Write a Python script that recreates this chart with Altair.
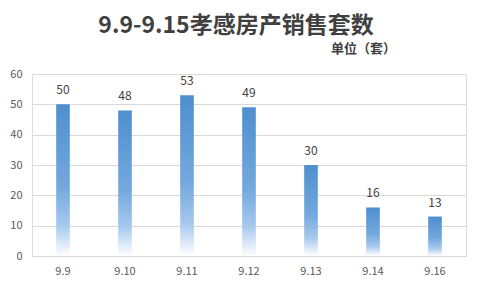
import altair as alt
import pandas as pd

# Daily housing sales in Xiaogan (units)
dates = ["9.9", "9.10", "9.11", "9.12", "9.13", "9.14", "9.16"]
units = [50, 48, 53, 49, 30, 16, 13]
y_ticks = [0, 10, 20, 30, 40, 50, 60]
heading_text = ["9.9-9.15孝感房产销售套数"]
unit_text = ["单位（套）"]

df = pd.DataFrame({"date": dates, "units": units})

FONT = "Noto Sans CJK SC"

x = alt.X("date:N", sort=dates, title=None,
          scale=alt.Scale(paddingInner=0.78, paddingOuter=0.39),
          axis=alt.Axis(labelAngle=0, labelFontSize=11, labelColor="#595959",
                        labelPadding=9, ticks=False, domain=True,
                        domainColor="#d9d9d9", labelFont=FONT))
y = alt.Y("units:Q", title=None,
          scale=alt.Scale(domain=[0, 60]),
          axis=alt.Axis(values=y_ticks, labelFontSize=11, labelOverlap=False,
                        labelColor="#595959", labelPadding=10, ticks=False,
                        domain=False, gridColor="#d9d9d9", labelFont=FONT))

# Vertical fade: solid blue at the top of each bar, white at the base
fade = alt.Gradient(
    gradient="linear", x1=0, y1=0, x2=0, y2=1,
    stops=[alt.GradientStop(offset=0, color="#4e8fcf"),
           alt.GradientStop(offset=0.55, color="#74a9de"),
           alt.GradientStop(offset=0.8, color="#a6c9ee"),
           alt.GradientStop(offset=1, color="#ffffff")])

bars = alt.Chart(df).mark_bar(color=fade).encode(x=x, y=y)

labels = alt.Chart(df).mark_text(baseline="bottom", dy=-7, fontSize=12,
                                 color="#404040", font=FONT).encode(
    x=x, y=y, text="units:Q")

# Heading and unit note, placed above the plot area (one row each)
heading = alt.Chart(pd.DataFrame({"t": heading_text})).mark_text(
    font=FONT, fontSize=23, fontWeight="bold",
    color="#404040", align="center", baseline="middle").encode(
    x=alt.value(204), y=alt.value(-48), text="t:N")

unit_note = alt.Chart(pd.DataFrame({"t": unit_text})).mark_text(
    font=FONT, fontSize=13, fontWeight="bold",
    color="#404040", align="right", baseline="middle").encode(
    x=alt.value(364), y=alt.value(-25), text="t:N")

chart = alt.layer(bars, labels, heading, unit_note).properties(
    width=434, height=182,
    autosize=alt.AutoSizeParams(type="none"),
    padding={"left": 32, "top": 74, "right": 15, "bottom": 33},
).configure_view(strokeWidth=0).configure(background="white")

chart.save("out.html", embed_options={"renderer": "svg", "actions": False})
